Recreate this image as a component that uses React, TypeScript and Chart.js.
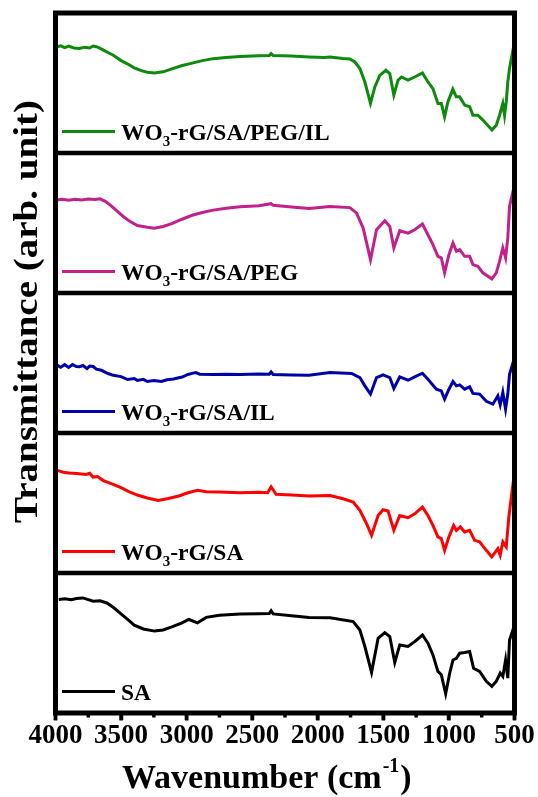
import React, { useEffect, useRef } from 'react';
import { Chart, registerables } from 'chart.js';

Chart.register(...registerables);

const SERIF = '"Liberation Serif", "Times New Roman", serif';

const X_MIN = 500;
const X_MAX = 4000;
const X_STEP = 500;
const MINOR_TICKS = [3750, 3250, 2750, 2250, 1750, 1250, 750];
const PANEL_EDGES = [100, 200, 300, 400];
const PANEL_SIZE = 100;

const Y_TITLE = 'Transmittance (arb. unit)';
const X_TITLE_MAIN = 'Wavenumber (cm';
const X_TITLE_SUP = '-1';
const X_TITLE_END = ')';

// bottom to top
const LABELS = ['SA', 'WO₃-rG/SA', 'WO₃-rG/SA/IL', 'WO₃-rG/SA/PEG', 'WO₃-rG/SA/PEG/IL'];
const COLORS = ['#000000', '#ff0000', '#0000a8', '#c2218b', '#0d8a0d'];

const SA_WN = [3975, 3930, 3880, 3840, 3792, 3750, 3713, 3660, 3609, 3560, 3505, 3450, 3400, 3330, 3244, 3180, 3113, 3040, 2983, 2917, 2851, 2750, 2592, 2450, 2370, 2356, 2340, 2200, 2067, 1907, 1730, 1679, 1641, 1590, 1540, 1489, 1451, 1413, 1375, 1312, 1261, 1202, 1160, 1122, 1084, 1058, 1025, 994, 969, 943, 918, 880, 842, 812, 766, 715, 673, 639, 609, 589, 568, 551, 538, 505];
const SA_T = [81.0, 81.6, 80.9, 81.8, 82.2, 81.0, 79.8, 80.2, 78.6, 75.5, 71.2, 66.8, 62.7, 60.0, 58.5, 59.3, 61.5, 64.2, 66.8, 64.4, 68.3, 69.8, 70.7, 70.9, 71.0, 73.0, 70.8, 69.5, 68.3, 68.1, 65.3, 59.3, 47.5, 29.0, 53.4, 57.4, 54.6, 36.1, 48.6, 47.5, 51.0, 55.7, 49.8, 41.5, 29.7, 27.3, 13.7, 28.5, 37.9, 39.1, 42.7, 43.2, 43.9, 32.0, 29.7, 22.6, 19.0, 22.6, 28.5, 26.1, 37.9, 24.9, 52.2, 61.5];

const RG_WN = [3988, 3940, 3897, 3840, 3766, 3740, 3713, 3680, 3635, 3570, 3505, 3440, 3376, 3300, 3216, 3140, 3060, 2990, 2917, 2851, 2750, 2592, 2450, 2382, 2356, 2318, 2200, 2067, 1907, 1807, 1730, 1679, 1628, 1590, 1540, 1502, 1464, 1420, 1375, 1312, 1261, 1202, 1160, 1122, 1084, 1058, 1033, 1000, 964, 943, 913, 880, 842, 804, 766, 715, 673, 627, 609, 589, 563, 543, 505];
const RG_T = [73.3, 72.0, 71.4, 71.0, 70.4, 71.2, 68.5, 68.9, 66.0, 63.6, 61.1, 58.2, 55.7, 53.6, 51.8, 53.2, 55.0, 57.3, 59.1, 58.1, 57.9, 57.4, 57.6, 57.4, 61.6, 56.2, 55.8, 55.0, 55.4, 53.0, 50.7, 44.7, 35.2, 26.9, 41.1, 45.2, 44.3, 30.5, 41.1, 39.5, 42.3, 47.1, 41.1, 34.0, 25.8, 24.6, 16.2, 25.8, 34.0, 30.5, 32.9, 29.3, 30.5, 23.3, 22.2, 16.2, 11.5, 17.4, 12.7, 22.2, 18.6, 40.0, 68.5];

const IL_WN = [3988, 3960, 3930, 3900, 3870, 3840, 3817, 3790, 3760, 3740, 3713, 3688, 3650, 3600, 3559, 3500, 3450, 3400, 3376, 3330, 3300, 3250, 3193, 3150, 3100, 3060, 3034, 2990, 2958, 2930, 2900, 2798, 2700, 2592, 2450, 2370, 2356, 2340, 2200, 2067, 1907, 1742, 1679, 1641, 1598, 1552, 1502, 1451, 1420, 1375, 1312, 1261, 1202, 1160, 1096, 1058, 1033, 1000, 969, 943, 918, 880, 842, 817, 766, 715, 665, 627, 609, 589, 568, 551, 538, 505];
const IL_T = [48.5, 47.0, 48.8, 46.8, 48.9, 47.5, 47.3, 48.2, 46.0, 47.8, 47.5, 45.6, 44.8, 42.5, 41.2, 40.3, 38.2, 38.9, 37.6, 38.3, 36.8, 37.5, 36.8, 38.0, 38.6, 39.5, 40.0, 41.8, 42.6, 43.2, 42.0, 41.7, 42.0, 41.7, 42.1, 42.0, 43.6, 41.8, 41.5, 41.2, 43.2, 42.5, 39.6, 33.7, 27.8, 39.6, 41.5, 39.6, 31.8, 40.1, 37.7, 40.1, 42.7, 38.4, 31.3, 30.1, 24.2, 31.3, 36.8, 33.7, 34.4, 31.3, 33.0, 28.3, 27.8, 22.6, 20.6, 26.5, 20.1, 29.0, 17.1, 27.8, 42.0, 52.2];

const PEG_WN = [3988, 3950, 3900, 3850, 3800, 3750, 3700, 3661, 3620, 3582, 3530, 3479, 3430, 3376, 3300, 3247, 3180, 3113, 3040, 2958, 2880, 2798, 2700, 2592, 2450, 2356, 2340, 2200, 2067, 1907, 1755, 1704, 1654, 1598, 1552, 1489, 1451, 1420, 1375, 1312, 1261, 1202, 1160, 1122, 1084, 1058, 1033, 1000, 969, 943, 918, 880, 842, 817, 779, 741, 673, 639, 614, 589, 568, 551, 538, 505];
const PEG_T = [66.5, 67.0, 66.2, 67.0, 66.4, 67.2, 66.8, 67.3, 65.5, 62.8, 58.5, 54.3, 51.0, 48.2, 46.9, 46.3, 47.5, 49.5, 52.5, 55.5, 57.5, 59.2, 60.5, 61.6, 62.3, 63.8, 62.6, 61.5, 60.4, 61.8, 61.0, 57.1, 46.4, 23.8, 45.2, 51.6, 47.5, 32.2, 44.5, 42.8, 45.2, 49.3, 41.6, 34.5, 26.2, 25.1, 14.4, 27.4, 35.7, 29.8, 31.0, 26.2, 26.2, 20.3, 19.1, 14.4, 10.1, 14.4, 22.6, 32.2, 25.1, 39.3, 61.8, 75.1];

const PEGIL_WN = [3988, 3960, 3930, 3900, 3860, 3817, 3780, 3740, 3713, 3688, 3660, 3635, 3600, 3559, 3500, 3452, 3400, 3346, 3300, 3247, 3180, 3113, 3040, 2958, 2880, 2798, 2700, 2592, 2450, 2370, 2356, 2340, 2200, 2067, 1950, 1907, 1809, 1755, 1717, 1679, 1641, 1598, 1565, 1527, 1481, 1451, 1420, 1388, 1362, 1312, 1261, 1202, 1160, 1122, 1084, 1058, 1033, 1008, 970, 944, 918, 880, 842, 817, 779, 741, 672, 639, 614, 589, 576, 563, 551, 538, 505];
const PEGIL_T = [75.9, 76.5, 75.2, 76.3, 75.0, 74.7, 75.6, 75.0, 76.4, 75.9, 74.8, 73.5, 71.8, 69.8, 66.0, 63.7, 60.8, 58.8, 57.7, 57.1, 58.0, 60.1, 62.3, 64.2, 66.0, 67.4, 68.2, 69.0, 69.5, 69.6, 71.0, 69.6, 69.2, 68.6, 68.2, 68.5, 67.5, 67.1, 65.0, 60.3, 50.7, 35.4, 47.2, 55.5, 59.1, 56.7, 41.3, 52.0, 54.3, 52.0, 54.3, 57.2, 50.7, 46.0, 35.4, 35.4, 25.8, 36.5, 45.6, 40.1, 40.1, 34.2, 33.0, 27.0, 27.0, 23.5, 16.4, 19.9, 27.0, 35.4, 27.0, 36.5, 50.7, 60.3, 76.9];

const SERIES_WN = [SA_WN, RG_WN, IL_WN, PEG_WN, PEGIL_WN];
const SERIES_T = [SA_T, RG_T, IL_T, PEG_T, PEGIL_T];

function drawRich(ctx: CanvasRenderingContext2D, text: string, x: number, y: number, size: number) {
  const parts = text.split('₃');
  let cx = x;
  parts.forEach((p, k) => {
    ctx.font = `bold ${size}px ${SERIF}`;
    ctx.fillText(p, cx, y);
    cx += ctx.measureText(p).width;
    if (k < parts.length - 1) {
      ctx.font = `bold ${Math.round(size * 0.65)}px ${SERIF}`;
      ctx.fillText('3', cx, y + size * 0.24);
      cx += ctx.measureText('3').width;
    }
  });
}

const decorPlugin = {
  id: 'decor',
  afterDatasetsDraw(chart: any) {
    const { ctx, chartArea: a, scales } = chart;
    const xs = scales.x;
    const ys = scales.y;
    ctx.save();
    ctx.strokeStyle = '#000';
    ctx.fillStyle = '#000';
    ctx.lineCap = 'butt';
    // separators
    ctx.lineWidth = 4.5;
    PANEL_EDGES.forEach((v) => {
      const py = ys.getPixelForValue(v);
      ctx.beginPath();
      ctx.moveTo(a.left, py);
      ctx.lineTo(a.right, py);
      ctx.stroke();
    });
    // frame
    ctx.lineWidth = 5;
    ctx.strokeRect(a.left, a.top, a.right - a.left, a.bottom - a.top);
    // major ticks (drawn over the frame so they stay visible)
    ctx.lineWidth = 3.5;
    xs.ticks.forEach((t: any) => {
      const px = xs.getPixelForValue(t.value);
      ctx.beginPath();
      ctx.moveTo(px, a.bottom);
      ctx.lineTo(px, a.bottom + 7.5);
      ctx.stroke();
    });
    // minor ticks
    MINOR_TICKS.forEach((v) => {
      const px = xs.getPixelForValue(v);
      ctx.beginPath();
      ctx.moveTo(px, a.bottom);
      ctx.lineTo(px, a.bottom + 4.5);
      ctx.stroke();
    });
    // legends
    chart.data.datasets.forEach((ds: any, i: number) => {
      const bottom = ys.getPixelForValue(i * PANEL_SIZE);
      ctx.strokeStyle = ds.borderColor;
      ctx.lineWidth = 3;
      ctx.beginPath();
      ctx.moveTo(62, bottom - 21.5);
      ctx.lineTo(115, bottom - 21.5);
      ctx.stroke();
      ctx.fillStyle = '#000';
      ctx.textAlign = 'left';
      ctx.textBaseline = 'alphabetic';
      drawRich(ctx, ds.label, 121, bottom - 13, 23.5);
    });
    // y title
    ctx.save();
    ctx.translate(37, 311.5);
    ctx.rotate(-Math.PI / 2);
    ctx.font = `bold 34px ${SERIF}`;
    const w = ctx.measureText(Y_TITLE).width;
    ctx.scale(423 / w, 1);
    ctx.textAlign = 'center';
    ctx.textBaseline = 'alphabetic';
    ctx.fillStyle = '#000';
    ctx.fillText(Y_TITLE, 0, 0);
    ctx.restore();
    // x title
    ctx.textAlign = 'left';
    ctx.textBaseline = 'alphabetic';
    ctx.fillStyle = '#000';
    let cx = 122;
    ctx.font = `bold 34px ${SERIF}`;
    ctx.fillText(X_TITLE_MAIN, cx, 788);
    cx += ctx.measureText(X_TITLE_MAIN).width + 1;
    ctx.font = `bold 20px ${SERIF}`;
    ctx.fillText(X_TITLE_SUP, cx, 772);
    cx += ctx.measureText(X_TITLE_SUP).width + 1;
    ctx.font = `bold 34px ${SERIF}`;
    ctx.fillText(X_TITLE_END, cx, 788);
    ctx.restore();
  },
};

export default function App() {
  const ref = useRef<HTMLCanvasElement | null>(null);
  useEffect(() => {
    if (!ref.current) return;
    const datasets = SERIES_WN.map((wn, i) => ({
      label: LABELS[i],
      data: wn.map((w, j) => ({ x: w, y: SERIES_T[i][j] + i * PANEL_SIZE })),
      borderColor: COLORS[i],
      backgroundColor: COLORS[i],
      borderWidth: 3,
      pointRadius: 0,
      tension: 0,
      fill: false,
    }));
    const chart = new Chart(ref.current, {
      type: 'line',
      data: { datasets },
      options: {
        animation: false,
        responsive: false,
        devicePixelRatio: 1,
        layout: { padding: { left: 55.5, right: 23.5, top: 13, bottom: 0 } },
        plugins: { legend: { display: false }, tooltip: { enabled: false }, title: { display: false } },
        scales: {
          x: {
            type: 'linear',
            reverse: true,
            min: X_MIN,
            max: X_MAX,
            ticks: {
              stepSize: X_STEP,
              color: '#000',
              font: { family: SERIF, size: 27, weight: 'bold' },
              maxRotation: 0,
              autoSkip: false,
              padding: 0,
              callback: (v: any) => String(v),
            },
            grid: { drawOnChartArea: false, drawTicks: true, tickLength: 7, tickWidth: 3.5, tickColor: '#000' },
            border: { display: false },
            afterFit: (s: any) => {
              s.height = 84;
            },
          },
          y: {
            type: 'linear',
            display: false,
            min: 0,
            max: 5 * PANEL_SIZE,
          },
        },
      } as any,
      plugins: [decorPlugin],
    });
    return () => chart.destroy();
  }, []);
  return (
    <canvas
      ref={ref}
      width={538}
      height={797}
      style={{ position: 'absolute', left: 0, top: 0, width: 538, height: 797, display: 'block' }}
    />
  );
}
